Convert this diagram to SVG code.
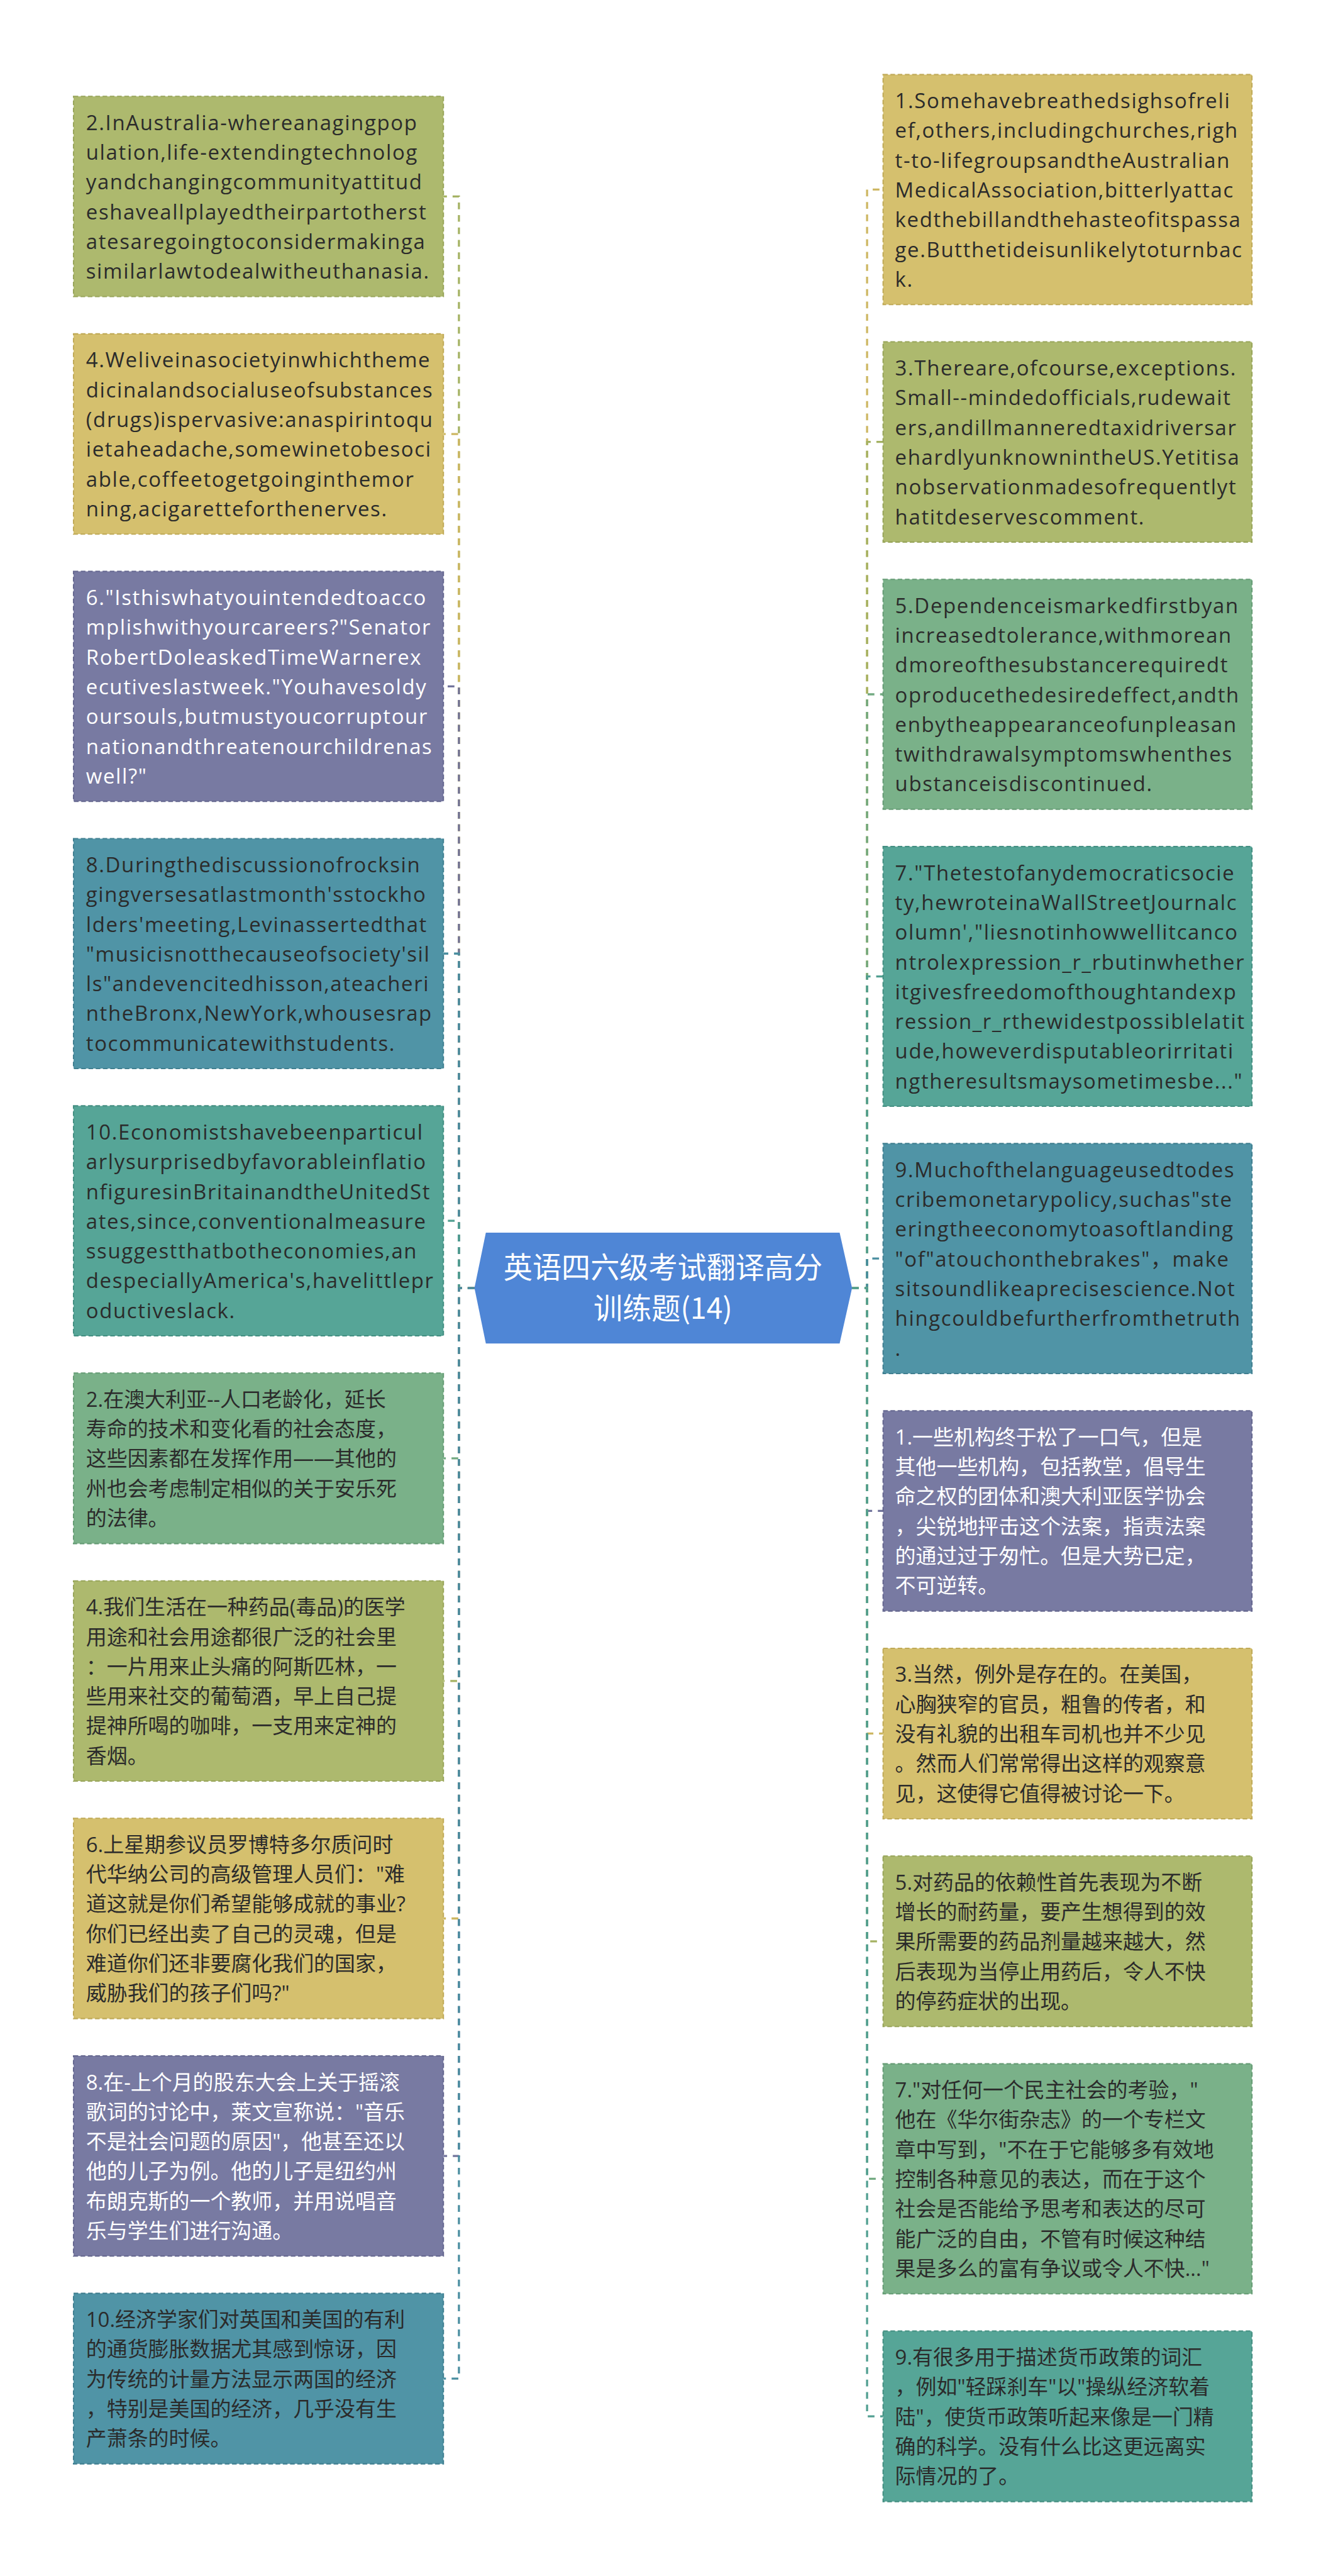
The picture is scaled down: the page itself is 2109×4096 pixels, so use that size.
<svg xmlns="http://www.w3.org/2000/svg" width="2109" height="4096" viewBox="0 0 2109 4096">
<style>
.t{font-family:"Open Sans","Noto Sans CJK SC",sans-serif;font-size:40px;fill:#2b2b2b}
.en{letter-spacing:2px}
.w{fill:#ffffff}
.box{stroke-width:2.5;stroke-dasharray:9 5}
.olive{fill:#adb96e;stroke:#98a55a}
.gold{fill:#d5c06e;stroke:#c0aa58}
.purple{fill:#787aa2;stroke:#65678f}
.tblue{fill:#5094a6;stroke:#407f90}
.tgreen{fill:#56a597;stroke:#448f82}
.green{fill:#7ab189;stroke:#669c75}
.e{fill:none;stroke-width:4;stroke-dasharray:13 11}
.c-olive{stroke:#a5b263}.c-gold{stroke:#cdb762}.c-purple{stroke:#72749c}.c-tblue{stroke:#4a8ea0}.c-tgreen{stroke:#519f91}.c-green{stroke:#73aa82}
.root{fill:#4f86d6}
.rt{font-family:"Noto Sans CJK SC","Noto Sans",sans-serif;font-size:56px;fill:#ffffff}
</style>
<rect x="0" y="0" width="2109" height="4096" fill="#ffffff"/>
<g transform="scale(0.82383)">
<g id="connectors">
<path class="e c-olive" d="M916 2486H886V379.2H856"/>
<path class="e c-gold" d="M916 2486H886V837.6H856"/>
<path class="e c-purple" d="M916 2486H886V1324.7H856"/>
<path class="e c-tblue" d="M916 2486H886V1840.5H856"/>
<path class="e c-tgreen" d="M916 2486H886V2356.3H856"/>
<path class="e c-green" d="M916 2486H886V2814.7H856"/>
<path class="e c-olive" d="M916 2486H886V3244.4H856"/>
<path class="e c-gold" d="M916 2486H886V3702.8H856"/>
<path class="e c-purple" d="M916 2486H886V4161.2H856"/>
<path class="e c-tblue" d="M916 2486H886V4590.9H856"/>
<path class="e c-gold" d="M1645 2486H1674V365.9H1705"/>
<path class="e c-olive" d="M1645 2486H1674V853H1705"/>
<path class="e c-green" d="M1645 2486H1674V1340.1H1705"/>
<path class="e c-tgreen" d="M1645 2486H1674V1884.6H1705"/>
<path class="e c-tblue" d="M1645 2486H1674V2429.1H1705"/>
<path class="e c-purple" d="M1645 2486H1674V2916.2H1705"/>
<path class="e c-gold" d="M1645 2486H1674V3345.9H1705"/>
<path class="e c-olive" d="M1645 2486H1674V3746.9H1705"/>
<path class="e c-green" d="M1645 2486H1674V4205.3H1705"/>
<path class="e c-tgreen" d="M1645 2486H1674V4663.7H1705"/>
</g>
<g id="root">
<polygon class="root" points="938,2379 1621,2379 1645,2486 1621,2593 938,2593 916,2486"/>
<text class="rt" x="1280" y="2467" text-anchor="middle">英语四六级考试翻译高分</text>
<text class="rt" x="1280" y="2545" text-anchor="middle">训练题(14)</text>
</g>
<g id="L1">
<rect class="box olive" x="142" y="186" width="714" height="386.4"/>
<text class="t en" x="166" y="251"><tspan x="166" dy="0">2.InAustralia-whereanagingpop</tspan><tspan x="166" dy="57.4">ulation,life-extendingtechnolog</tspan><tspan x="166" dy="57.4">yandchangingcommunityattitud</tspan><tspan x="166" dy="57.4">eshaveallplayedtheirpartotherst</tspan><tspan x="166" dy="57.4">atesaregoingtoconsidermakinga</tspan><tspan x="166" dy="57.4">similarlawtodealwitheuthanasia.</tspan></text>
</g>
<g id="L2">
<rect class="box gold" x="142" y="644.4" width="714" height="386.4"/>
<text class="t en" x="166" y="709.4"><tspan x="166" dy="0">4.Weliveinasocietyinwhichtheme</tspan><tspan x="166" dy="57.4">dicinalandsocialuseofsubstances</tspan><tspan x="166" dy="57.4">(drugs)ispervasive:anaspirintoqu</tspan><tspan x="166" dy="57.4">ietaheadache,somewinetobesoci</tspan><tspan x="166" dy="57.4">able,coffeetogetgoinginthemor</tspan><tspan x="166" dy="57.4">ning,acigaretteforthenerves.</tspan></text>
</g>
<g id="L3">
<rect class="box purple" x="142" y="1102.8" width="714" height="443.8"/>
<text class="t en w" x="166" y="1167.8"><tspan x="166" dy="0">6."Isthiswhatyouintendedtoacco</tspan><tspan x="166" dy="57.4">mplishwithyourcareers?"Senator</tspan><tspan x="166" dy="57.4">RobertDoleaskedTimeWarnerex</tspan><tspan x="166" dy="57.4">ecutiveslastweek."Youhavesoldy</tspan><tspan x="166" dy="57.4">oursouls,butmustyoucorruptour</tspan><tspan x="166" dy="57.4">nationandthreatenourchildrenas</tspan><tspan x="166" dy="57.4">well?"</tspan></text>
</g>
<g id="L4">
<rect class="box tblue" x="142" y="1618.6" width="714" height="443.8"/>
<text class="t en" x="166" y="1683.6"><tspan x="166" dy="0">8.Duringthediscussionofrocksin</tspan><tspan x="166" dy="57.4">gingversesatlastmonth'sstockho</tspan><tspan x="166" dy="57.4">lders'meeting,Levinassertedthat</tspan><tspan x="166" dy="57.4">"musicisnotthecauseofsociety'sil</tspan><tspan x="166" dy="57.4">ls"andevencitedhisson,ateacheri</tspan><tspan x="166" dy="57.4">ntheBronx,NewYork,whousesrap</tspan><tspan x="166" dy="57.4">tocommunicatewithstudents.</tspan></text>
</g>
<g id="L5">
<rect class="box tgreen" x="142" y="2134.4" width="714" height="443.8"/>
<text class="t en" x="166" y="2199.4"><tspan x="166" dy="0">10.Economistshavebeenparticul</tspan><tspan x="166" dy="57.4">arlysurprisedbyfavorableinflatio</tspan><tspan x="166" dy="57.4">nfiguresinBritainandtheUnitedSt</tspan><tspan x="166" dy="57.4">ates,since,conventionalmeasure</tspan><tspan x="166" dy="57.4">ssuggestthatbotheconomies,an</tspan><tspan x="166" dy="57.4">despeciallyAmerica's,havelittlepr</tspan><tspan x="166" dy="57.4">oductiveslack.</tspan></text>
</g>
<g id="L6">
<rect class="box green" x="142" y="2650.2" width="714" height="329"/>
<text class="t" x="166" y="2715.2"><tspan x="166" dy="0">2.在澳大利亚--人口老龄化，延长</tspan><tspan x="166" dy="57.4">寿命的技术和变化看的社会态度，</tspan><tspan x="166" dy="57.4">这些因素都在发挥作用——其他的</tspan><tspan x="166" dy="57.4">州也会考虑制定相似的关于安乐死</tspan><tspan x="166" dy="57.4">的法律。</tspan></text>
</g>
<g id="L7">
<rect class="box olive" x="142" y="3051.2" width="714" height="386.4"/>
<text class="t" x="166" y="3116.2"><tspan x="166" dy="0">4.我们生活在一种药品(毒品)的医学</tspan><tspan x="166" dy="57.4">用途和社会用途都很广泛的社会里</tspan><tspan x="166" dy="57.4">：一片用来止头痛的阿斯匹林，一</tspan><tspan x="166" dy="57.4">些用来社交的葡萄酒，早上自己提</tspan><tspan x="166" dy="57.4">提神所喝的咖啡，一支用来定神的</tspan><tspan x="166" dy="57.4">香烟。</tspan></text>
</g>
<g id="L8">
<rect class="box gold" x="142" y="3509.6" width="714" height="386.4"/>
<text class="t" x="166" y="3574.6"><tspan x="166" dy="0">6.上星期参议员罗博特多尔质问时</tspan><tspan x="166" dy="57.4">代华纳公司的高级管理人员们："难</tspan><tspan x="166" dy="57.4">道这就是你们希望能够成就的事业?</tspan><tspan x="166" dy="57.4">你们已经出卖了自己的灵魂，但是</tspan><tspan x="166" dy="57.4">难道你们还非要腐化我们的国家，</tspan><tspan x="166" dy="57.4">威胁我们的孩子们吗?"</tspan></text>
</g>
<g id="L9">
<rect class="box purple" x="142" y="3968" width="714" height="386.4"/>
<text class="t w" x="166" y="4033"><tspan x="166" dy="0">8.在-上个月的股东大会上关于摇滚</tspan><tspan x="166" dy="57.4">歌词的讨论中，莱文宣称说："音乐</tspan><tspan x="166" dy="57.4">不是社会问题的原因"，他甚至还以</tspan><tspan x="166" dy="57.4">他的儿子为例。他的儿子是纽约州</tspan><tspan x="166" dy="57.4">布朗克斯的一个教师，并用说唱音</tspan><tspan x="166" dy="57.4">乐与学生们进行沟通。</tspan></text>
</g>
<g id="L10">
<rect class="box tblue" x="142" y="4426.4" width="714" height="329"/>
<text class="t" x="166" y="4491.4"><tspan x="166" dy="0">10.经济学家们对英国和美国的有利</tspan><tspan x="166" dy="57.4">的通货膨胀数据尤其感到惊讶，因</tspan><tspan x="166" dy="57.4">为传统的计量方法显示两国的经济</tspan><tspan x="166" dy="57.4">，特别是美国的经济，几乎没有生</tspan><tspan x="166" dy="57.4">产萧条的时候。</tspan></text>
</g>
<g id="R1">
<rect class="box gold" x="1705" y="144" width="712" height="443.8"/>
<text class="t en" x="1728" y="209"><tspan x="1728" dy="0">1.Somehavebreathedsighsofreli</tspan><tspan x="1728" dy="57.4">ef,others,includingchurches,righ</tspan><tspan x="1728" dy="57.4">t-to-lifegroupsandtheAustralian</tspan><tspan x="1728" dy="57.4">MedicalAssociation,bitterlyattac</tspan><tspan x="1728" dy="57.4">kedthebillandthehasteofitspassa</tspan><tspan x="1728" dy="57.4">ge.Butthetideisunlikelytoturnbac</tspan><tspan x="1728" dy="57.4">k.</tspan></text>
</g>
<g id="R2">
<rect class="box olive" x="1705" y="659.8" width="712" height="386.4"/>
<text class="t en" x="1728" y="724.8"><tspan x="1728" dy="0">3.Thereare,ofcourse,exceptions.</tspan><tspan x="1728" dy="57.4">Small--mindedofficials,rudewait</tspan><tspan x="1728" dy="57.4">ers,andillmanneredtaxidriversar</tspan><tspan x="1728" dy="57.4">ehardlyunknownintheUS.Yetitisa</tspan><tspan x="1728" dy="57.4">nobservationmadesofrequentlyt</tspan><tspan x="1728" dy="57.4">hatitdeservescomment.</tspan></text>
</g>
<g id="R3">
<rect class="box green" x="1705" y="1118.2" width="712" height="443.8"/>
<text class="t en" x="1728" y="1183.2"><tspan x="1728" dy="0">5.Dependenceismarkedfirstbyan</tspan><tspan x="1728" dy="57.4">increasedtolerance,withmorean</tspan><tspan x="1728" dy="57.4">dmoreofthesubstancerequiredt</tspan><tspan x="1728" dy="57.4">oproducethedesiredeffect,andth</tspan><tspan x="1728" dy="57.4">enbytheappearanceofunpleasan</tspan><tspan x="1728" dy="57.4">twithdrawalsymptomswhenthes</tspan><tspan x="1728" dy="57.4">ubstanceisdiscontinued.</tspan></text>
</g>
<g id="R4">
<rect class="box tgreen" x="1705" y="1634" width="712" height="501.2"/>
<text class="t en" x="1728" y="1699"><tspan x="1728" dy="0">7."Thetestofanydemocraticsocie</tspan><tspan x="1728" dy="57.4">ty,hewroteinaWallStreetJournalc</tspan><tspan x="1728" dy="57.4">olumn',"liesnotinhowwellitcanco</tspan><tspan x="1728" dy="57.4">ntrolexpression_r_rbutinwhether</tspan><tspan x="1728" dy="57.4">itgivesfreedomofthoughtandexp</tspan><tspan x="1728" dy="57.4">ression_r_rthewidestpossiblelatit</tspan><tspan x="1728" dy="57.4">ude,howeverdisputableorirritati</tspan><tspan x="1728" dy="57.4">ngtheresultsmaysometimesbe..."</tspan></text>
</g>
<g id="R5">
<rect class="box tblue" x="1705" y="2207.2" width="712" height="443.8"/>
<text class="t en" x="1728" y="2272.2"><tspan x="1728" dy="0">9.Muchofthelanguageusedtodes</tspan><tspan x="1728" dy="57.4">cribemonetarypolicy,suchas"ste</tspan><tspan x="1728" dy="57.4">eringtheeconomytoasoftlanding</tspan><tspan x="1728" dy="57.4">"of"atouchonthebrakes"，make</tspan><tspan x="1728" dy="57.4">sitsoundlikeaprecisescience.Not</tspan><tspan x="1728" dy="57.4">hingcouldbefurtherfromthetruth</tspan><tspan x="1728" dy="57.4">.</tspan></text>
</g>
<g id="R6">
<rect class="box purple" x="1705" y="2723" width="712" height="386.4"/>
<text class="t w" x="1728" y="2788"><tspan x="1728" dy="0">1.一些机构终于松了一口气，但是</tspan><tspan x="1728" dy="57.4">其他一些机构，包括教堂，倡导生</tspan><tspan x="1728" dy="57.4">命之权的团体和澳大利亚医学协会</tspan><tspan x="1728" dy="57.4">，尖锐地抨击这个法案，指责法案</tspan><tspan x="1728" dy="57.4">的通过过于匆忙。但是大势已定，</tspan><tspan x="1728" dy="57.4">不可逆转。</tspan></text>
</g>
<g id="R7">
<rect class="box gold" x="1705" y="3181.4" width="712" height="329"/>
<text class="t" x="1728" y="3246.4"><tspan x="1728" dy="0">3.当然，例外是存在的。在美国，</tspan><tspan x="1728" dy="57.4">心胸狭窄的官员，粗鲁的传者，和</tspan><tspan x="1728" dy="57.4">没有礼貌的出租车司机也并不少见</tspan><tspan x="1728" dy="57.4">。然而人们常常得出这样的观察意</tspan><tspan x="1728" dy="57.4">见，这使得它值得被讨论一下。</tspan></text>
</g>
<g id="R8">
<rect class="box olive" x="1705" y="3582.4" width="712" height="329"/>
<text class="t" x="1728" y="3647.4"><tspan x="1728" dy="0">5.对药品的依赖性首先表现为不断</tspan><tspan x="1728" dy="57.4">增长的耐药量，要产生想得到的效</tspan><tspan x="1728" dy="57.4">果所需要的药品剂量越来越大，然</tspan><tspan x="1728" dy="57.4">后表现为当停止用药后，令人不快</tspan><tspan x="1728" dy="57.4">的停药症状的出现。</tspan></text>
</g>
<g id="R9">
<rect class="box green" x="1705" y="3983.4" width="712" height="443.8"/>
<text class="t" x="1728" y="4048.4"><tspan x="1728" dy="0">7."对任何一个民主社会的考验，"</tspan><tspan x="1728" dy="57.4">他在《华尔街杂志》的一个专栏文</tspan><tspan x="1728" dy="57.4">章中写到，"不在于它能够多有效地</tspan><tspan x="1728" dy="57.4">控制各种意见的表达，而在于这个</tspan><tspan x="1728" dy="57.4">社会是否能给予思考和表达的尽可</tspan><tspan x="1728" dy="57.4">能广泛的自由，不管有时候这种结</tspan><tspan x="1728" dy="57.4">果是多么的富有争议或令人不快..."</tspan></text>
</g>
<g id="R10">
<rect class="box tgreen" x="1705" y="4499.2" width="712" height="329"/>
<text class="t" x="1728" y="4564.2"><tspan x="1728" dy="0">9.有很多用于描述货币政策的词汇</tspan><tspan x="1728" dy="57.4">，例如"轻踩刹车"以"操纵经济软着</tspan><tspan x="1728" dy="57.4">陆"，使货币政策听起来像是一门精</tspan><tspan x="1728" dy="57.4">确的科学。没有什么比这更远离实</tspan><tspan x="1728" dy="57.4">际情况的了。</tspan></text>
</g>
</g>
</svg>
